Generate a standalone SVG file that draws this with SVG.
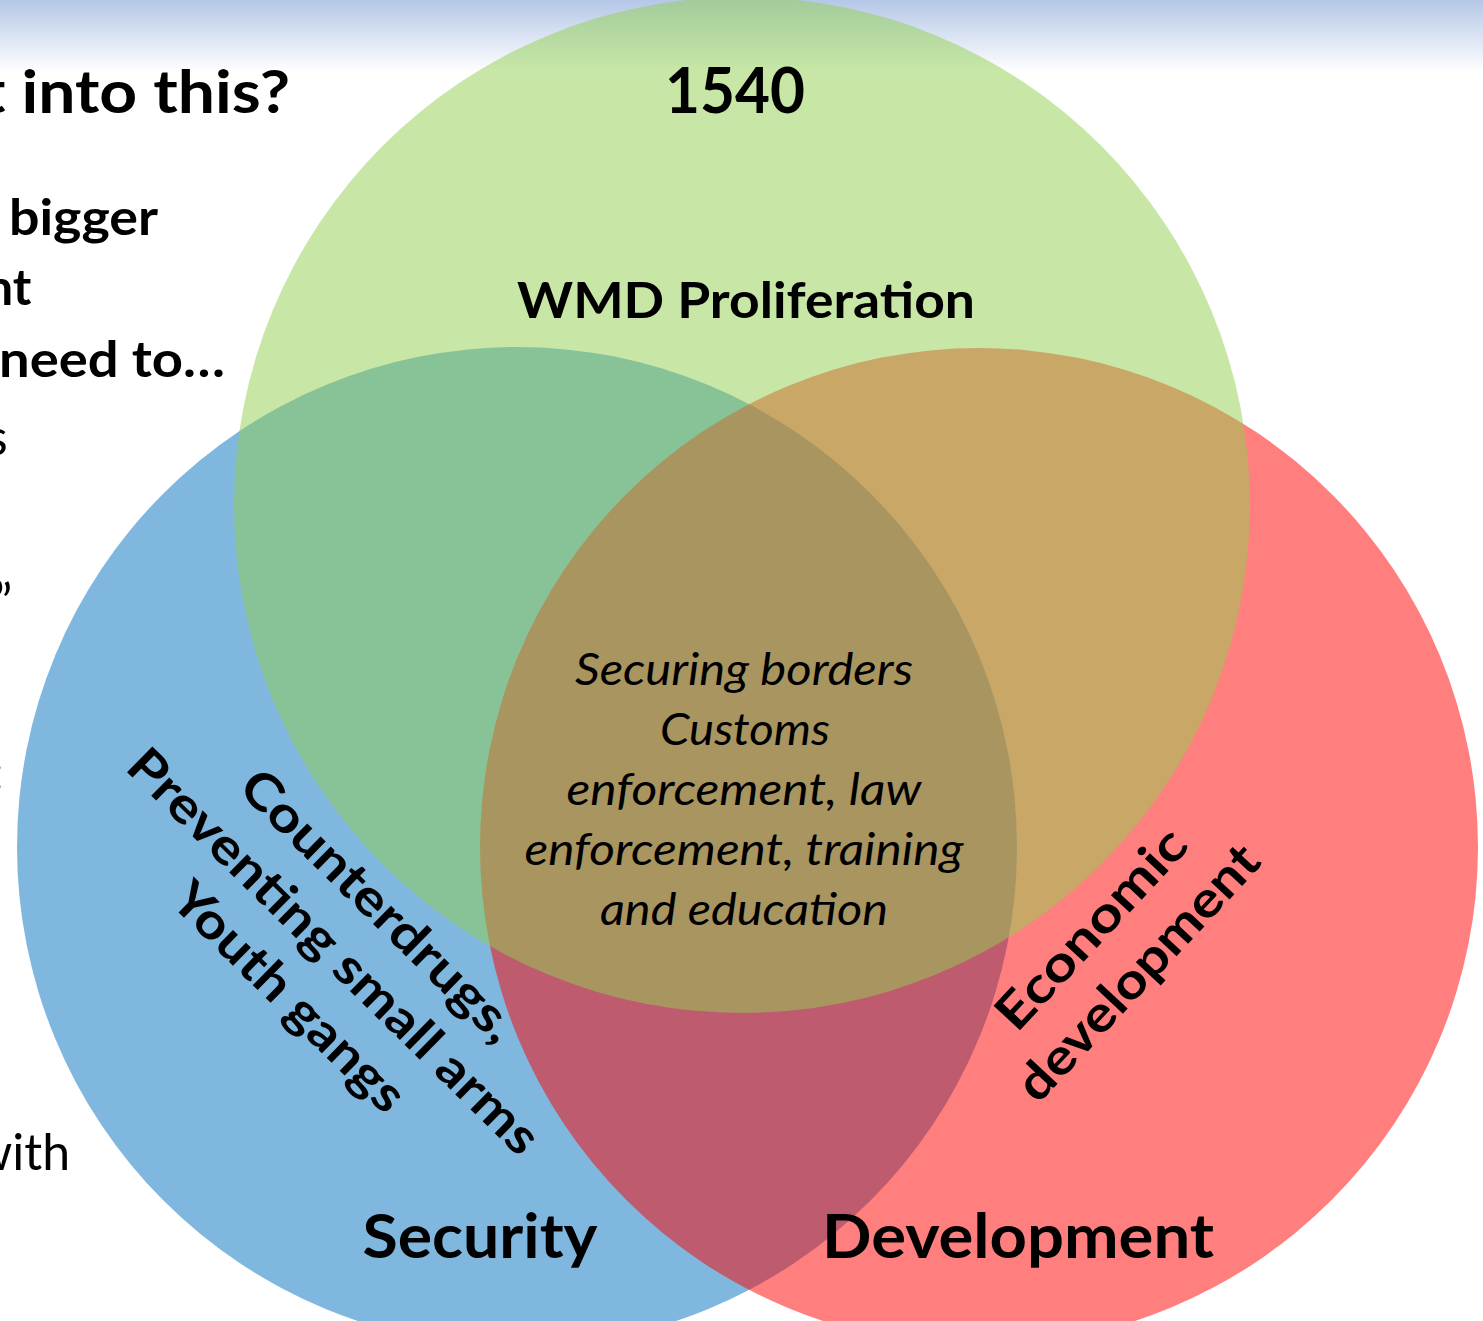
<svg xmlns="http://www.w3.org/2000/svg" width="1483" height="1321" viewBox="0 0 1483 1321">
  <defs>
    <linearGradient id="band" x1="0" y1="0" x2="0" y2="1">
      <stop offset="0" stop-color="#b4c7e7"/>
      <stop offset="1" stop-color="#ffffff"/>
    </linearGradient>
    <style>
      .set { opacity: 0.5; }
      .bold { font-family: Lato, "Liberation Sans", sans-serif; font-weight: 700; fill: #000; }
      .reg { font-family: Lato, "Liberation Sans", sans-serif; font-weight: 400; fill: #000; }
      .ital { font-family: Lato, "Liberation Sans", sans-serif; font-style: italic; font-weight: 400; fill: #000; font-size: 45px; }
      .mid { text-anchor: middle; }
    </style>
  </defs>

  <!-- slide background -->
  <rect x="0" y="0" width="1483" height="1321" fill="#ffffff"/>
  <rect x="0" y="0" width="1483" height="72" fill="url(#band)"/>

  <!-- slide text running behind the diagram -->
  <g id="slide-text">
    <text class="bold" x="-19" y="113" font-size="60" textLength="309" lengthAdjust="spacingAndGlyphs">t into this?</text>
    <text class="bold" x="9" y="235" font-size="50" textLength="149" lengthAdjust="spacingAndGlyphs">bigger</text>
    <text class="bold" x="-15" y="305" font-size="50">nt</text>
    <text class="bold" x="-1" y="377" font-size="50" textLength="226" lengthAdjust="spacingAndGlyphs">need to…</text>
    <text class="reg" x="-14" y="455" font-size="50">s</text>
    <text class="reg" x="-6" y="620" font-size="50">”</text>
    <text class="reg" x="-9" y="790" font-size="50">:</text>
    <text class="reg" x="-27" y="1170" font-size="50">with</text>
  </g>

  <!-- Security set -->
  <g id="security">
    <circle class="set" cx="517" cy="847" r="500" fill="#0070c0"/>
    <text class="bold mid" x="480" y="1258" font-size="62" textLength="235" lengthAdjust="spacingAndGlyphs">Security</text>
    <g transform="translate(333 952) rotate(44.5)">
      <text class="bold mid" x="0" y="-48" font-size="50" textLength="365" lengthAdjust="spacingAndGlyphs">Counterdrugs,</text>
      <text class="bold mid" x="0" y="16" font-size="50" textLength="555" lengthAdjust="spacingAndGlyphs">Preventing small arms</text>
      <text class="bold mid" x="0" y="80" font-size="50" textLength="305" lengthAdjust="spacingAndGlyphs">Youth gangs</text>
    </g>
  </g>

  <!-- Development set -->
  <g id="development">
    <circle class="set" cx="979" cy="847" r="499" fill="#ff0000"/>
    <text class="bold mid" x="1018" y="1258" font-size="62" textLength="392" lengthAdjust="spacingAndGlyphs">Development</text>
    <g transform="translate(1114 950) rotate(-47)">
      <text class="bold mid" x="0" y="-14" font-size="50" textLength="255" lengthAdjust="spacingAndGlyphs">Economic</text>
      <text class="bold mid" x="0" y="50" font-size="50" textLength="330" lengthAdjust="spacingAndGlyphs">development</text>
    </g>
  </g>

  <!-- WMD proliferation set (UNSCR 1540) -->
  <g id="wmd">
    <circle class="set" cx="742" cy="505" r="508" fill="#92d050"/>
    <text class="bold mid" x="735" y="113" font-size="64" textLength="140" lengthAdjust="spacingAndGlyphs">1540</text>
    <text class="bold mid" x="746" y="318" font-size="50" textLength="458" lengthAdjust="spacingAndGlyphs">WMD Proliferation</text>
  </g>

  <!-- shared centre of all three sets -->
  <g id="overlap">
    <text class="ital mid" x="744" y="685" textLength="338" lengthAdjust="spacingAndGlyphs">Securing borders</text>
    <text class="ital mid" x="745" y="745" textLength="170" lengthAdjust="spacingAndGlyphs">Customs</text>
    <text class="ital mid" x="744" y="805" textLength="355" lengthAdjust="spacingAndGlyphs">enforcement, law</text>
    <text class="ital mid" x="744" y="865" textLength="439" lengthAdjust="spacingAndGlyphs">enforcement, training</text>
    <text class="ital mid" x="744" y="925" textLength="288" lengthAdjust="spacingAndGlyphs">and education</text>
  </g>
</svg>
